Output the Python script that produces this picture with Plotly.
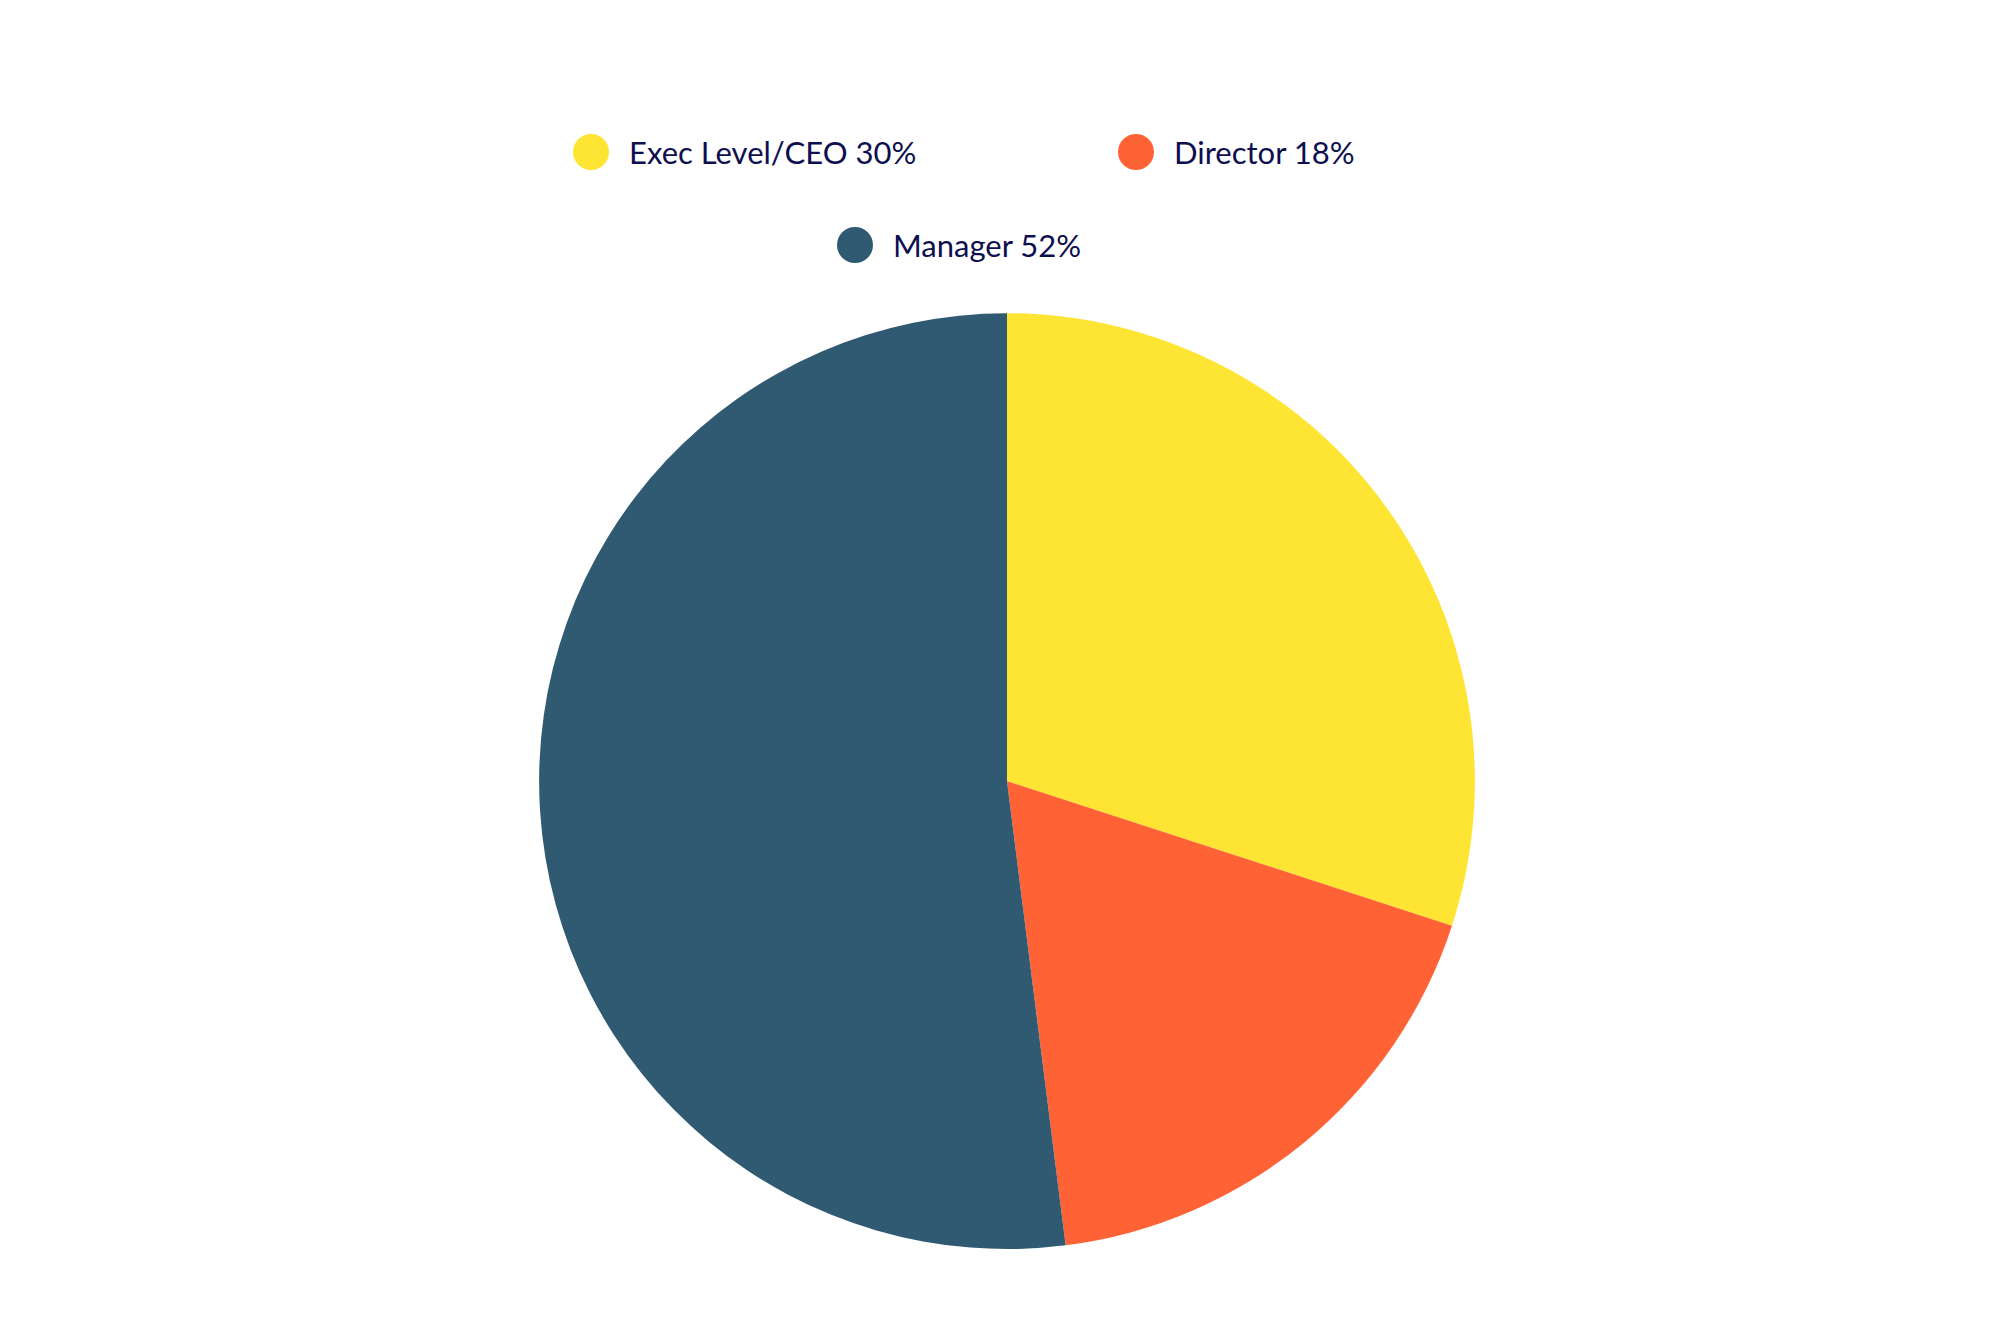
import plotly.graph_objects as go

labels = ["Exec Level/CEO", "Director", "Manager"]
values = [30, 18, 52]
colors = ["#FFE533", "#FF6335", "#305A72"]

W, H = 2000, 1333
text_color = "#0D0F4F"

fig = go.Figure(go.Pie(
    labels=labels, values=values, sort=False, direction="clockwise", rotation=0,
    marker=dict(colors=colors, line=dict(width=0)),
    textinfo="none", hoverinfo="label+percent", showlegend=False,
    domain=dict(x=[0.2655, 0.7335], y=[0.069, 0.771]),
))

# custom legend: circle + label, two rows (pixel positions)
legend_pos = [(583, 144), (1128, 144), (847, 237)]
shapes, annotations = [], []
for (px, py), lab, val, col in zip(legend_pos, labels, values, colors):
    xc, yc = px / W, 1 - py / H
    shapes.append(dict(type="circle", xref="paper", yref="paper",
                       xsizemode="pixel", ysizemode="pixel",
                       xanchor=xc, yanchor=yc, x0=-18, x1=18, y0=-18, y1=18,
                       fillcolor=col, line=dict(width=0)))
    annotations.append(dict(x=(px + 36) / W, y=yc, xref="paper", yref="paper",
                            xanchor="left", yanchor="middle", showarrow=False,
                            text=f"{lab} {val}%",
                            font=dict(size=31, color=text_color, family="Lato")))

fig.update_layout(
    width=W, height=H, margin=dict(l=0, r=0, t=0, b=0),
    paper_bgcolor="white", plot_bgcolor="white",
    shapes=shapes, annotations=annotations,
)
fig.write_html("out.html")
